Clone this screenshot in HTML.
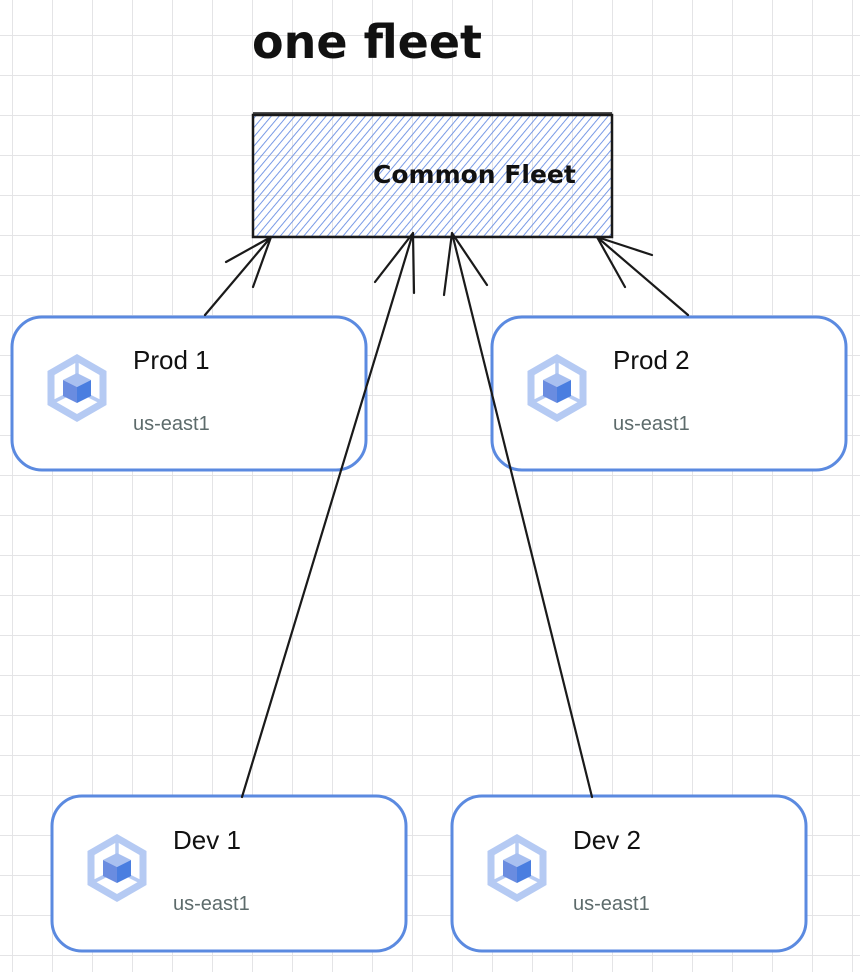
<!DOCTYPE html>
<html><head><meta charset="utf-8"><style>
html,body{margin:0;padding:0;background:#fff;}
body{width:860px;height:972px;overflow:hidden;position:relative;}
svg{position:absolute;left:0;top:0;}
.t{font-family:"Liberation Sans",sans-serif;}
</style></head><body>
<svg width="860" height="972" viewBox="0 0 860 972" xmlns="http://www.w3.org/2000/svg">
<defs>
<pattern id="grid" x="12" y="35" width="40" height="40" patternUnits="userSpaceOnUse">
<path d="M0 0 V40 M0 0 H40" stroke="#e4e4e6" stroke-width="2" fill="none"/>
</pattern>
<pattern id="hatch" width="6" height="6" patternUnits="userSpaceOnUse" patternTransform="rotate(40)">
<line x1="0" y1="0" x2="0" y2="6" stroke="#6a8fe3" stroke-width="1.8"/>
</pattern>
<g id="icon">
<polygon points="0,-30 26,-15 26,15 0,30 -26,15 -26,-15" fill="none" stroke="#b5caf3" stroke-width="7"/>
<line x1="0" y1="-27" x2="0" y2="-14" stroke="#b5caf3" stroke-width="3.5"/>
<line x1="-24" y1="14" x2="-12" y2="8" stroke="#b5caf3" stroke-width="3.5"/>
<line x1="24" y1="14" x2="12" y2="8" stroke="#b5caf3" stroke-width="3.5"/>
<polygon points="0,-15 14,-8 0,-1 -14,-8" fill="#a9c0f0"/>
<polygon points="-14,-8 0,-1 0,15 -14,8" fill="#6a8ce0"/>
<polygon points="14,-8 0,-1 0,15 14,8" fill="#4a7ee0"/>
</g>
</defs>
<rect width="860" height="972" fill="url(#grid)"/>

<!-- common fleet -->
<rect x="253" y="115" width="359" height="122" fill="url(#hatch)" stroke="#1a1a1a" stroke-width="2.5"/>
<line x1="253" y1="113" x2="612" y2="113" stroke="#1a1a1a" stroke-width="1.5"/>
<text x="373" y="183" font-family="'Comic Sans MS','DejaVu Sans',sans-serif" font-size="25" font-weight="bold" fill="#111">Common Fleet</text>
<text x="252" y="58" font-family="'Comic Sans MS','DejaVu Sans',sans-serif" font-size="46" font-weight="bold" fill="#111">one fleet</text>

<!-- nodes -->
<g fill="#fff" stroke="#5b8ae0" stroke-width="3">
<rect x="12" y="317" width="354" height="153" rx="30"/>
<rect x="492" y="317" width="354" height="153" rx="30"/>
<rect x="52" y="796" width="354" height="155" rx="30"/>
<rect x="452" y="796" width="354" height="155" rx="30"/>
</g>

<!-- connectors -->
<g stroke="#1a1a1a" stroke-width="2.2" fill="none" stroke-linecap="round">
<path d="M205 315 L271 237 M271 237 L226 262 M271 237 L253 287"/>
<path d="M242 797 L413 233 M413 233 L375 282 M413 233 L414 293"/>
<path d="M592 797 L452 233 M452 233 L444 295 M452 233 L487 285"/>
<path d="M688 315 L597 237 M597 237 L652 255 M597 237 L625 287"/>
</g>

<use href="#icon" x="77" y="388"/>
<use href="#icon" x="557" y="388"/>
<use href="#icon" x="117" y="868"/>
<use href="#icon" x="517" y="868"/>
<g class="t">
<text x="133" y="369" font-size="26" fill="#111">Prod 1</text>
<text x="133" y="430" font-size="20" fill="#5d6b6b">us-east1</text>
<text x="613" y="369" font-size="26" fill="#111">Prod 2</text>
<text x="613" y="430" font-size="20" fill="#5d6b6b">us-east1</text>
<text x="173" y="849" font-size="26" fill="#111">Dev 1</text>
<text x="173" y="910" font-size="20" fill="#5d6b6b">us-east1</text>
<text x="573" y="849" font-size="26" fill="#111">Dev 2</text>
<text x="573" y="910" font-size="20" fill="#5d6b6b">us-east1</text>
</g>
</svg>
</body></html>
